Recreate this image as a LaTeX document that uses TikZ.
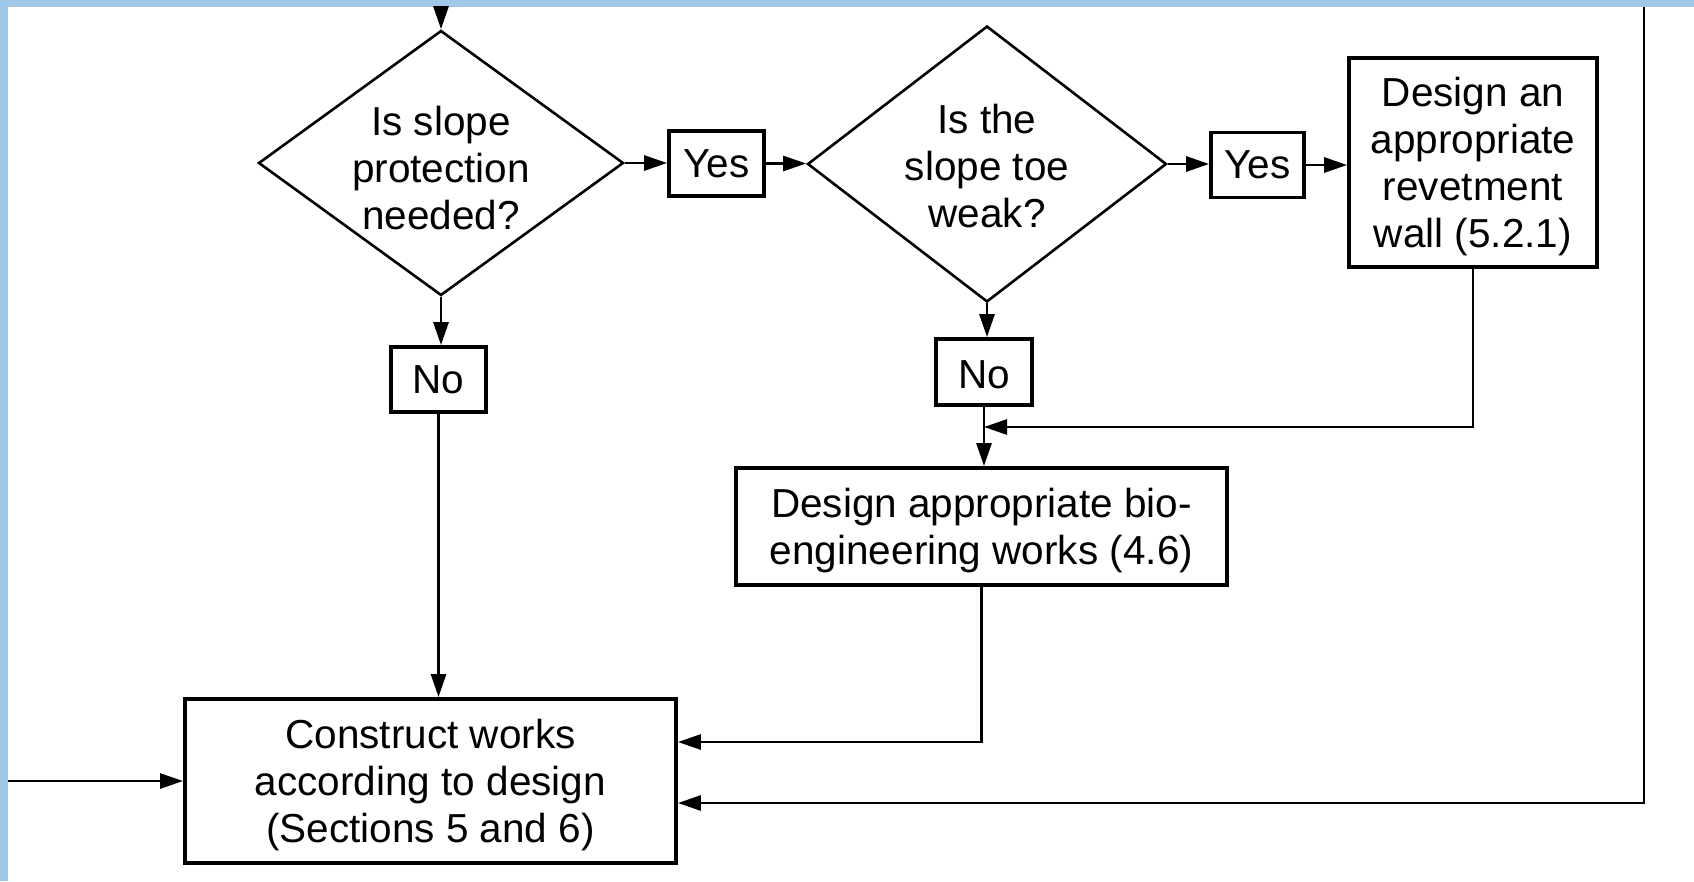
\documentclass[tikz,border=0pt]{standalone}
\usepackage{fontspec}
\setmainfont{Liberation Sans}
\usetikzlibrary{shapes.geometric,arrows.meta}
\definecolor{band}{RGB}{160,198,232}
\newcommand{\topstrut}{\rule{0pt}{37pt}}
\begin{document}
\begin{tikzpicture}[x=1pt,y=-1pt,
  txt/.style={align=center,font=\fontsize{40.5}{47}\selectfont},
  box/.style={draw,line width=3.8pt,rectangle,inner sep=0pt,txt},
  dia/.style={draw,line width=2.6pt,diamond,inner sep=0pt},
  lbl/.style={inner sep=0pt,txt},
  conn/.style={line width=2.8pt,-{Triangle[length=23pt,width=15pt]}},
  plainline/.style={line width=2.8pt}]
\useasboundingbox (0,0) rectangle (1694,881);
\fill[white] (0,0) rectangle (1694,881);
\fill[band] (0,0) rectangle (1694,7);
\fill[band] (0,0) rectangle (8,881);

\node[dia,minimum width=365pt,minimum height=265pt] (d1) at (441,163) {};
\node[lbl] (t1) at (441,168) {Is slope\\protection\\needed?};
\node[box,minimum width=95pt,minimum height=65pt] (y1) at (716.5,163.5) {Yes};
\node[dia,minimum width=359pt,minimum height=276pt] (d2) at (987,164) {};
\node[lbl] (t2) at (987,166) {Is the\\slope toe\\weak?};
\node[box,minimum width=93pt,minimum height=65pt] (y2) at (1257.5,165) {Yes};
\node[box,minimum width=248pt,minimum height=209pt] (rev) at (1473,162.5) {\topstrut Design an\\appropriate\\revetment\\wall (5.2.1)};
\node[box,minimum width=95pt,minimum height=65pt] (n1) at (438.5,379.5) {No};
\node[box,minimum width=96pt,minimum height=66pt] (n2) at (984,372) {\rule{0pt}{33pt}No};
\node[box,minimum width=491pt,minimum height=117pt] (bio) at (981.5,526.5) {\topstrut Design appropriate bio-\\engineering works (4.6)};
\node[box,minimum width=491pt,minimum height=164pt] (con) at (430.5,781) {\topstrut Construct works\\according to design\\(Sections 5 and 6)};

\coordinate (top1) at (441,7);
\coordinate (topR) at (1644,7);
\coordinate (leftin) at (8,781);
\coordinate (jn) at (984,427);

\draw[conn] (top1) -- (d1.north);
\draw[conn] (d1.east) -- (d1.east -| y1.west);
\draw[conn] (y1.east) -- (y1.east -| d2.west);
\draw[conn] (d2.east) -- (d2.east -| y2.west);
\draw[conn] (y2.east) -- (y2.east -| rev.west);
\draw[conn] (d1.south) -- (d1.south |- n1.north);
\draw[conn] (d2.south) -- (d2.south |- n2.north);
\draw[conn] (n1.south) -- (n1.south |- con.north);
\draw[conn] (n2.south) -- (n2.south |- bio.north);
\draw[conn] (rev.south) |- (jn);
\draw[conn] (bio.south) |- ([yshift=39pt]con.east);
\draw[conn] (topR) |- ([yshift=-22pt]con.east);
\draw[conn] (leftin) -- (con.west);
\end{tikzpicture}
\end{document}
